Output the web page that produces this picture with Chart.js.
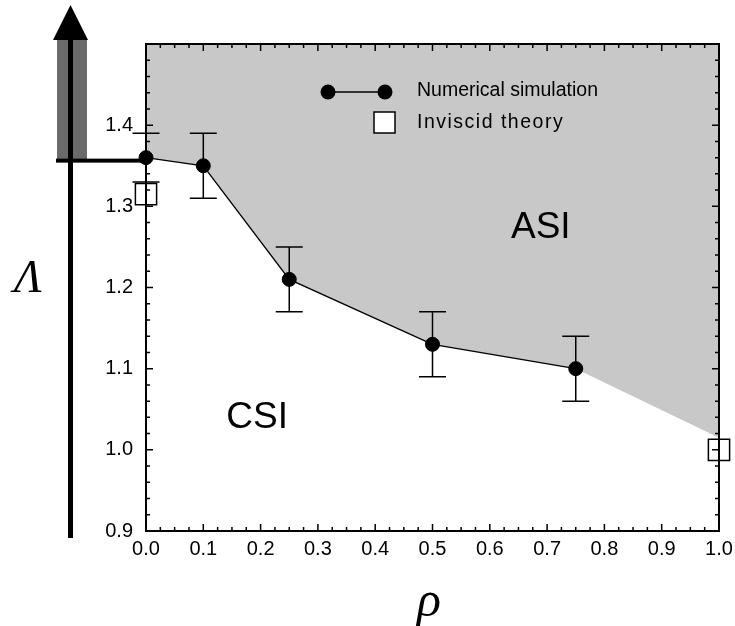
<!DOCTYPE html>
<html>
<head>
<meta charset="utf-8">
<script src="https://cdn.jsdelivr.net/npm/chart.js"></script>
<style>
  html, body { margin: 0; padding: 0; overflow: hidden; background: #fff; }
  canvas { display: block; }
</style>
</head>
<body>
<canvas id="chart" width="760" height="626"></canvas>
<script>
// numerical simulation (with error bars)
const rhoNum = [0.0, 0.1, 0.25, 0.5, 0.75];
const lambdaNum = [1.36, 1.35, 1.21, 1.13, 1.10];
const lambdaErr = [0.03, 0.04, 0.04, 0.04, 0.04];
// inviscid theory
const rhoTheory = [0.0, 1.0];
const lambdaTheory = [1.315, 1.0];
// ASI / CSI boundary (grey region sits above it)
const rhoBoundary = [0.0, 0.1, 0.25, 0.5, 0.75, 1.0];
const lambdaBoundary = [1.36, 1.35, 1.21, 1.13, 1.10, 1.015];
// tick labels
const xTickLabels = ['0.0', '0.1', '0.2', '0.3', '0.4', '0.5', '0.6', '0.7', '0.8', '0.9', '1.0'];
const yTickLabels = ['0.9', '1.0', '1.1', '1.2', '1.3', '1.4'];

const FONT = "'Liberation Sans', Arial, sans-serif";
const SERIF = "'Liberation Serif', 'Times New Roman', serif";

const toPts = (xs, ys) => xs.map((x, i) => ({ x, y: ys[i] }));

const decor = {
  id: 'decor',
  beforeDatasetsDraw(chart) {
    const ctx = chart.ctx;
    const ys = chart.scales.y;
    const xs = chart.scales.x;
    const yLink = ys.getPixelForValue(lambdaNum[0]) + 3;
    ctx.save();
    // big arrow on the left
    ctx.fillStyle = '#6a6a6a';
    ctx.fillRect(57, 40, 30, yLink - 40);
    ctx.fillStyle = '#000';
    ctx.beginPath();
    ctx.moveTo(70.5, 5);
    ctx.lineTo(88, 40);
    ctx.lineTo(53, 40);
    ctx.closePath();
    ctx.fill();
    ctx.fillRect(68, 38, 5, 500);
    ctx.fillRect(56, yLink - 2, xs.getPixelForValue(rhoNum[0]) - 56, 4);
    ctx.restore();
  },
  afterDatasetsDraw(chart) {
    const ctx = chart.ctx;
    const xs = chart.scales.x;
    const ys = chart.scales.y;
    const a = chart.chartArea;
    ctx.save();

    // error bars
    ctx.strokeStyle = '#000';
    ctx.lineWidth = 1.5;
    rhoNum.forEach((r, i) => {
      const px = xs.getPixelForValue(r);
      const top = ys.getPixelForValue(lambdaNum[i] + lambdaErr[i]);
      const bot = ys.getPixelForValue(lambdaNum[i] - lambdaErr[i]);
      ctx.beginPath();
      ctx.moveTo(px, top); ctx.lineTo(px, bot);
      ctx.moveTo(px - 13.5, top); ctx.lineTo(px + 13.5, top);
      ctx.moveTo(px - 13.5, bot); ctx.lineTo(px + 13.5, bot);
      ctx.stroke();
    });

    // frame
    ctx.lineWidth = 2;
    ctx.strokeRect(a.left, a.top, a.right - a.left, a.bottom - a.top);

    // inward ticks on all four sides
    ctx.lineWidth = 1.5;
    ctx.beginPath();
    for (let i = 0; i <= 40; i++) {
      const px = xs.getPixelForValue(i * 0.025);
      const len = i % 4 === 0 ? 7 : 4;
      ctx.moveTo(px, a.bottom); ctx.lineTo(px, a.bottom - len);
      ctx.moveTo(px, a.top); ctx.lineTo(px, a.top + len);
    }
    for (let i = 0; i <= 30; i++) {
      const py = ys.getPixelForValue(0.9 + i * 0.02);
      const len = i % 5 === 0 ? 7 : 4;
      ctx.moveTo(a.left, py); ctx.lineTo(a.left + len, py);
      ctx.moveTo(a.right, py); ctx.lineTo(a.right - len, py);
    }
    ctx.stroke();

    // legend
    ctx.lineWidth = 1.5;
    ctx.beginPath();
    ctx.moveTo(328, 92); ctx.lineTo(385, 92);
    ctx.stroke();
    ctx.fillStyle = '#000';
    [328, 385].forEach(x => {
      ctx.beginPath(); ctx.arc(x, 92, 7.5, 0, Math.PI * 2); ctx.fill();
    });
    ctx.fillStyle = '#fff';
    ctx.fillRect(374, 112, 21, 21);
    ctx.strokeRect(374, 112, 21, 21);
    ctx.fillStyle = '#000';
    ctx.font = '19.5px ' + FONT;
    ctx.textBaseline = 'middle';
    ctx.textAlign = 'left';
    ctx.fillText('Numerical simulation', 417, 91);
    ctx.letterSpacing = '1.5px';
    ctx.fillText('Inviscid theory', 417, 123);
    ctx.letterSpacing = '0px';

    // region labels
    ctx.font = '37px ' + FONT;
    ctx.textAlign = 'center';
    ctx.fillText('ASI', xs.getPixelForValue(0.689), ys.getPixelForValue(1.273));
    ctx.fillText('CSI', xs.getPixelForValue(0.194), ys.getPixelForValue(1.039));

    // axis symbols
    ctx.font = 'italic 46px ' + SERIF;
    ctx.fillText('\u039B', 28, 280);
    ctx.font = 'italic 50px ' + SERIF;
    ctx.fillText('\u03C1', 429, 603);
    ctx.restore();
  }
};

new Chart(document.getElementById('chart'), {
  type: 'line',
  data: {
    datasets: [
      {
        label: 'Inviscid theory',
        data: toPts(rhoTheory, lambdaTheory),
        showLine: false,
        pointStyle: 'rect',
        pointRadius: 15,
        pointBackgroundColor: '#fff',
        pointBorderColor: '#000',
        pointBorderWidth: 1.5,
        clip: false,
        order: 0
      },
      {
        label: 'Numerical simulation',
        data: toPts(rhoNum, lambdaNum),
        borderColor: '#000',
        borderWidth: 1.3,
        pointRadius: 7,
        pointBackgroundColor: '#000',
        pointBorderColor: '#000',
        pointBorderWidth: 1,
        fill: false,
        clip: false,
        order: 1
      },
      {
        label: 'ASI region',
        data: toPts(rhoBoundary, lambdaBoundary),
        borderWidth: 0,
        borderColor: 'rgba(0,0,0,0)',
        pointRadius: 0,
        backgroundColor: '#c8c8c8',
        fill: 'end',
        order: 2
      }
    ]
  },
  options: {
    responsive: false,
    animation: false,
    events: [],
    layout: { padding: { left: 0, right: 41, top: 44, bottom: 0 } },
    plugins: { legend: { display: false }, tooltip: { enabled: false }, title: { display: false } },
    scales: {
      x: {
        type: 'linear',
        min: 0, max: 1,
        grid: { display: false, drawTicks: false },
        border: { display: false },
        afterFit: s => { s.height = 95; },
        ticks: {
          stepSize: 0.1,
          padding: 6,
          color: '#000',
          font: { family: FONT, size: 20 },
          maxRotation: 0,
          autoSkip: false,
          callback: v => xTickLabels[Math.round(v * 10)] ?? ''
        }
      },
      y: {
        type: 'linear',
        min: 0.9, max: 1.5,
        grid: { display: false, drawTicks: false },
        border: { display: false },
        afterFit: s => { s.width = 146; },
        ticks: {
          stepSize: 0.1,
          padding: 13,
          color: '#000',
          font: { family: FONT, size: 20 },
          autoSkip: false,
          callback: v => yTickLabels[Math.round((v - 0.9) * 10)] ?? ''
        }
      }
    }
  },
  plugins: [decor]
});
</script>
</body>
</html>
